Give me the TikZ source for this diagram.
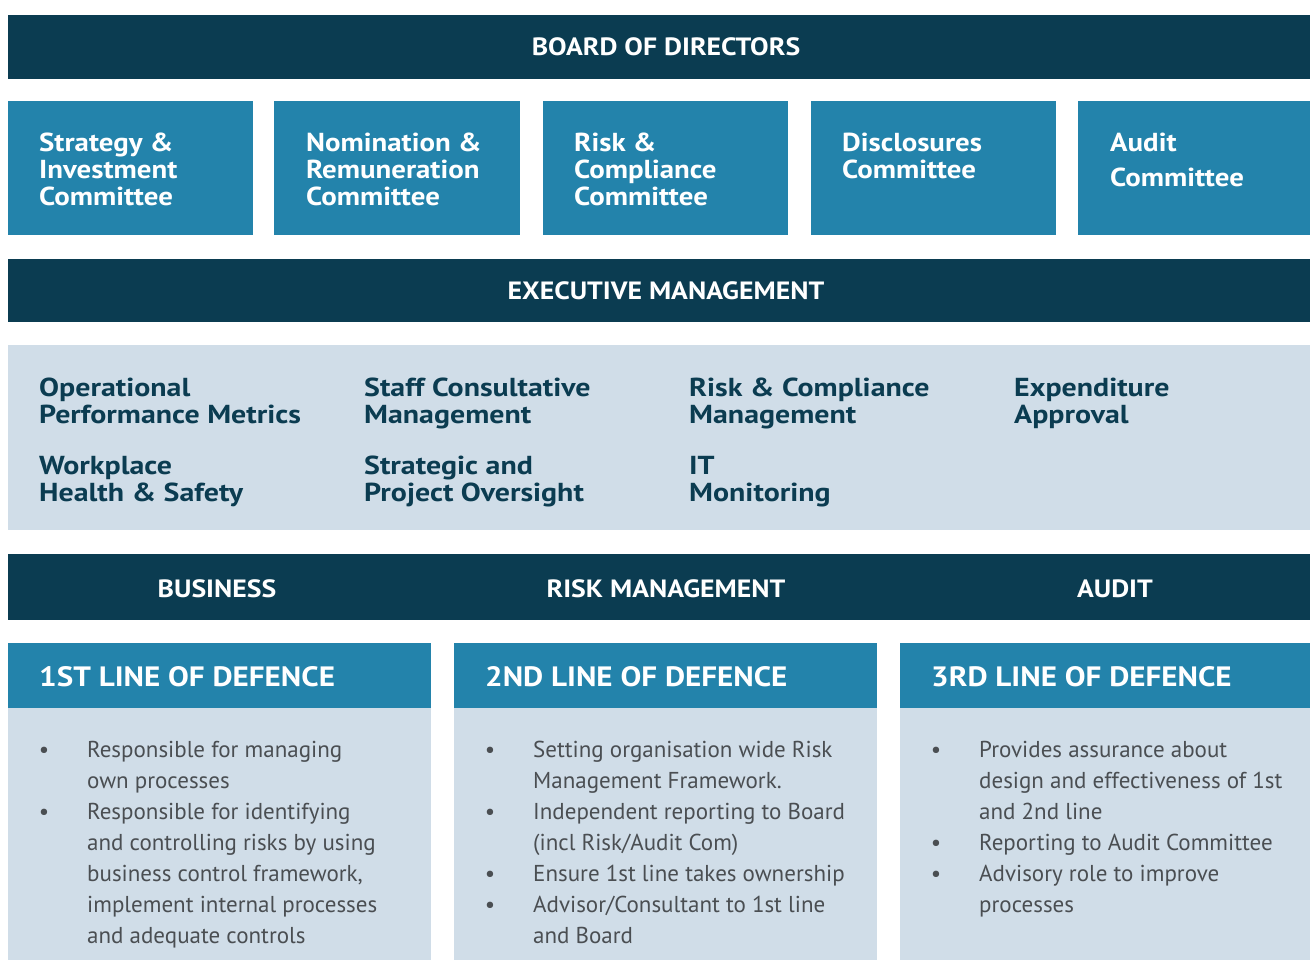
\documentclass[tikz,border=0pt]{standalone}
\usepackage{fontspec}
\setmainfont{PT Sans}
\newfontfamily\widesans[FakeStretch=1.11]{PT Sans}
\newfontfamily\widersans[FakeStretch=1.15]{PT Sans}
\definecolor{navy}{HTML}{0B3C51}
\definecolor{cblue}{HTML}{2383AB}
\definecolor{pale}{HTML}{D0DDE8}
\definecolor{bodytxt}{HTML}{4A4E52}
\begin{document}
\begin{tikzpicture}[x=1pt,y=-1pt,
  navyband/.style={fill=navy},
  blueband/.style={fill=cblue},
  paleband/.style={fill=pale},
  bartitle/.style={text=white,font=\widesans\fontsize{25}{30}\selectfont\bfseries,anchor=base,inner sep=0pt},
  cmt/.style={text=white,font=\widesans\fontsize{26}{27}\selectfont\bfseries,anchor=base west,inner sep=0pt},
  task/.style={text=navy,font=\widersans\fontsize{26}{27}\selectfont\bfseries,anchor=base west,inner sep=0pt},
  defhead/.style={text=white,font=\widesans\fontsize{28}{30}\selectfont\bfseries,anchor=base west,inner sep=0pt},
  bline/.style={text=bodytxt,font=\fontsize{23}{31}\selectfont,anchor=base west,inner sep=0pt},
  dot/.style={text=bodytxt,font=\fontsize{23}{31}\selectfont,anchor=base,inner sep=0pt}]
\useasboundingbox (0,0) rectangle (1310,960);

% ---------- board ----------
\fill[navyband] (8,15) rectangle (1310,79);
\node[bartitle] (board) at (666,56) {BOARD OF DIRECTORS};

% ---------- committees ----------
\fill[blueband] (8,101) rectangle (253,235);
\fill[blueband] (274,101) rectangle (520,235);
\fill[blueband] (543,101) rectangle (788,235);
\fill[blueband] (811,101) rectangle (1056,235);
\fill[blueband] (1078,101) rectangle (1310,235);
\node[cmt] (c1a) at (39,152) {Strategy \&};
\node[cmt] (c1b) at (39,179) {Investment};
\node[cmt] (c1c) at (39,206) {Committee};
\node[cmt] (c2a) at (306,152) {Nomination \&};
\node[cmt] (c2b) at (306,179) {Remuneration};
\node[cmt] (c2c) at (306,206) {Committee};
\node[cmt] (c3a) at (574,152) {Risk \&};
\node[cmt] (c3b) at (574,179) {Compliance};
\node[cmt] (c3c) at (574,206) {Committee};
\node[cmt] (c4a) at (842,152) {Disclosures};
\node[cmt] (c4b) at (842,179) {Committee};
\node[cmt] (c5a) at (1110,152) {Audit};
\node[cmt] (c5b) at (1110,187) {Committee};

% ---------- executive management ----------
\fill[navyband] (8,259) rectangle (1310,322);
\node[bartitle] (exec) at (666,300) {EXECUTIVE MANAGEMENT};
\fill[paleband] (8,345) rectangle (1310,530);
\node[task] (t1a) at (39,396) {Operational};
\node[task] (t1b) at (39,423) {Performance Metrics};
\node[task] (t2a) at (39,474) {Workplace};
\node[task] (t2b) at (39,501) {Health \& Safety};
\node[task] (t3a) at (364,396) {Staff Consultative};
\node[task] (t3b) at (364,423) {Management};
\node[task] (t4a) at (364,474) {Strategic and};
\node[task] (t4b) at (364,501) {Project Oversight};
\node[task] (t5a) at (689,396) {Risk \& Compliance};
\node[task] (t5b) at (689,423) {Management};
\node[task] (t6a) at (689,474) {IT};
\node[task] (t6b) at (689,501) {Monitoring};
\node[task] (t7a) at (1014,396) {Expenditure};
\node[task] (t7b) at (1014,423) {Approval};

% ---------- functions ----------
\fill[navyband] (8,554) rectangle (1310,620);
\node[bartitle] (bus) at (217,597) {BUSINESS};
\node[bartitle] (risk) at (666,597) {RISK MANAGEMENT};
\node[bartitle] (aud) at (1115,597) {AUDIT};

% ---------- lines of defence ----------
\fill[blueband] (8,643) rectangle (431,708);
\fill[blueband] (454,643) rectangle (877,708);
\fill[blueband] (900,643) rectangle (1310,708);
\fill[paleband] (8,708) rectangle (431,960);
\fill[paleband] (454,708) rectangle (877,960);
\fill[paleband] (900,708) rectangle (1310,960);
\node[defhead] (d1) at (39,686) {1ST LINE OF DEFENCE};
\node[defhead] (d2) at (485,686) {2ND LINE OF DEFENCE};
\node[defhead] (d3) at (931,686) {3RD LINE OF DEFENCE};

% first line
\node[dot] (p1) at (44,757) {•};
\node[dot] (p2) at (44,819) {•};
\node[bline] (l1) at (87,757) {Responsible for managing};
\node[bline] (l2) at (87,788) {own processes};
\node[bline] (l3) at (87,819) {Responsible for identifying};
\node[bline] (l4) at (87,850) {and controlling risks by using};
\node[bline] (l5) at (87,881) {business control framework,};
\node[bline] (l6) at (87,912) {implement internal processes};
\node[bline] (l7) at (87,943) {and adequate controls};

% second line
\node[dot] (q1) at (490,757) {•};
\node[dot] (q2) at (490,819) {•};
\node[dot] (q3) at (490,881) {•};
\node[dot] (q4) at (490,912) {•};
\node[bline] (m1) at (533,757) {Setting organisation wide Risk};
\node[bline] (m2) at (533,788) {Management Framework.};
\node[bline] (m3) at (533,819) {Independent reporting to Board};
\node[bline] (m4) at (533,850) {(incl Risk/Audit Com)};
\node[bline] (m5) at (533,881) {Ensure 1st line takes ownership};
\node[bline] (m6) at (533,912) {Advisor/Consultant to 1st line};
\node[bline] (m7) at (533,943) {and Board};

% third line
\node[dot] (r1) at (936,757) {•};
\node[dot] (r2) at (936,850) {•};
\node[dot] (r3) at (936,881) {•};
\node[bline] (n1) at (979,757) {Provides assurance about};
\node[bline] (n2) at (979,788) {design and effectiveness of 1st};
\node[bline] (n3) at (979,819) {and 2nd line};
\node[bline] (n4) at (979,850) {Reporting to Audit Committee};
\node[bline] (n5) at (979,881) {Advisory role to improve};
\node[bline] (n6) at (979,912) {processes};
\end{tikzpicture}
\end{document}
